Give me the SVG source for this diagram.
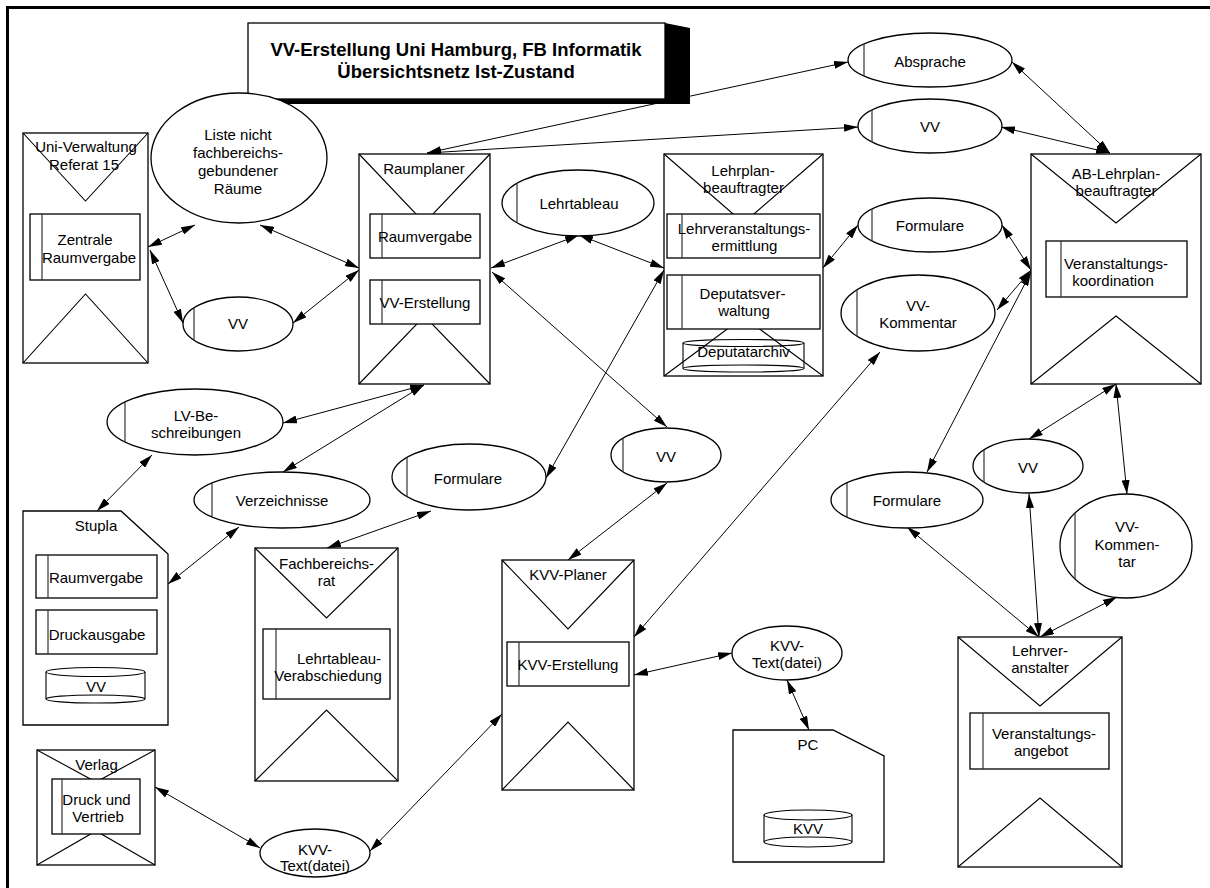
<svg xmlns="http://www.w3.org/2000/svg" width="1210" height="888" viewBox="0 0 1210 888">
  <defs>
    <marker id="ah" viewBox="0 0 14 8" refX="14" refY="4" markerWidth="14" markerHeight="8" markerUnits="userSpaceOnUse" orient="auto-start-reverse">
      <path d="M0,0 L14,4 L0,8 z" fill="#000"/>
    </marker>
    <style>
      .box { fill:#fff; stroke:#000; stroke-width:1.3; }
      .open { fill:none; stroke:#000; stroke-width:1.1; }
      .tri { fill:none; stroke:#000; stroke-width:1.1; }
      .stripe { stroke:#333; stroke-width:1.2; }
      .t { font-family:"Liberation Sans", Arial, Helvetica, sans-serif; font-size:15px; text-anchor:middle; fill:#000; }
      .title { font-family:"Liberation Sans", Arial, Helvetica, sans-serif; font-size:18.5px; font-weight:bold; text-anchor:middle; fill:#000; }
      #connectors line { stroke:#000; stroke-width:1; marker-start:url(#ah); marker-end:url(#ah); }
    </style>
  </defs>

  <rect width="1210" height="888" fill="#fff"/>
  <!-- page frame -->
  <path d="M7.5,888 V7.5 H1210" fill="none" stroke="#000" stroke-width="3"/>

  <!-- connectors -->
  <g id="connectors">
    <line x1="148" y1="247" x2="195" y2="225"/>
    <line x1="150" y1="250" x2="183" y2="323"/>
    <line x1="260" y1="225" x2="359" y2="268"/>
    <line x1="293" y1="323" x2="359" y2="270"/>
    <line x1="491" y1="268" x2="579" y2="235"/>
    <line x1="579" y1="235" x2="664" y2="268"/>
    <line x1="492" y1="272" x2="667" y2="427"/>
    <line x1="664" y1="270" x2="546" y2="478"/>
    <line x1="823" y1="268" x2="858" y2="225"/>
    <line x1="1002" y1="225" x2="1031" y2="270"/>
    <line x1="997" y1="310" x2="1031" y2="270"/>
    <line x1="1031" y1="272" x2="927" y2="472"/>
    <line x1="1012" y1="62" x2="1110" y2="153"/>
    <line x1="1001" y1="127" x2="1110" y2="153"/>
    <line x1="427" y1="153" x2="848" y2="62"/>
    <line x1="427" y1="153" x2="858" y2="127"/>
    <line x1="424" y1="385" x2="283" y2="423"/>
    <line x1="424" y1="385" x2="283" y2="472"/>
    <line x1="152" y1="455" x2="97" y2="511"/>
    <line x1="239" y1="527" x2="168" y2="584"/>
    <line x1="431" y1="511" x2="327" y2="548"/>
    <line x1="667" y1="483" x2="568" y2="560"/>
    <line x1="634" y1="637" x2="880" y2="352"/>
    <line x1="634" y1="675" x2="732" y2="653"/>
    <line x1="787" y1="680" x2="809" y2="730"/>
    <line x1="502" y1="714" x2="370" y2="851"/>
    <line x1="155" y1="787" x2="260" y2="848"/>
    <line x1="1116" y1="384" x2="1029" y2="439"/>
    <line x1="1116" y1="384" x2="1127" y2="494"/>
    <line x1="907" y1="527" x2="1039" y2="637"/>
    <line x1="1029" y1="494" x2="1039" y2="637"/>
    <line x1="1117" y1="597" x2="1040" y2="637"/>
  </g>

  <!-- title -->
  <g id="title">
    <polygon points="665,23 690,28 690,104 272,104 248,99 665,99" fill="#000"/>
    <rect class="box" x="248" y="23" width="417" height="76"/>
    <text class="title" x="456" y="56">VV-Erstellung Uni Hamburg, FB Informatik</text>
    <text class="title" x="456" y="78">Übersichtsnetz Ist-Zustand</text>
  </g>

  <!-- Uni-Verwaltung Referat 15 -->
  <g id="uni-verwaltung">
    <rect class="box" x="23" y="133" width="125" height="230"/>
    <polyline class="tri" points="23,133 85.5,201 148,133"/>
    <polyline class="tri" points="23,363 85.5,294 148,363"/>
    <text class="t" x="86" y="152">Uni-Verwaltung</text>
    <text class="t" x="84" y="170">Referat 15</text>
    <rect class="box" x="30" y="214" width="110" height="66"/>
    <line class="stripe" x1="42" y1="214" x2="42" y2="280"/>
    <text class="t" x="85" y="245">Zentrale</text>
    <text class="t" x="89" y="263">Raumvergabe</text>
  </g>

  <!-- Liste nicht fachbereichsgebundener Räume -->
  <g id="liste-raeume">
    <ellipse class="box" cx="239" cy="158" rx="88" ry="65"/>
    <text class="t" x="238" y="140">Liste nicht</text>
    <text class="t" x="238" y="158">fachbereichs-</text>
    <text class="t" x="238" y="176">gebundener</text>
    <text class="t" x="238" y="194">Räume</text>
  </g>

  <!-- VV (left) -->
  <g id="vv-links">
    <ellipse class="box" cx="238" cy="324" rx="55" ry="27"/>
    <line class="stripe" x1="194" y1="308" x2="194" y2="340"/>
    <text class="t" x="238" y="329">VV</text>
  </g>

  <!-- Raumplaner -->
  <g id="raumplaner">
    <rect class="box" x="359" y="154" width="131" height="230"/>
    <polyline class="tri" points="359,154 424.5,223 490,154"/>
    <polyline class="tri" points="359,384 424.5,316 490,384"/>
    <text class="t" x="424" y="174">Raumplaner</text>
    <rect class="box" x="370" y="214" width="110" height="44"/>
    <line class="stripe" x1="382" y1="214" x2="382" y2="258"/>
    <text class="t" x="425" y="242">Raumvergabe</text>
    <rect class="box" x="370" y="280" width="110" height="44"/>
    <line class="stripe" x1="382" y1="280" x2="382" y2="324"/>
    <text class="t" x="425" y="308">VV-Erstellung</text>
  </g>

  <!-- Lehrtableau -->
  <g id="lehrtableau">
    <ellipse class="box" cx="578" cy="203" rx="76" ry="33"/>
    <line class="stripe" x1="517" y1="183.5" x2="517" y2="222.5"/>
    <text class="t" x="579" y="209">Lehrtableau</text>
  </g>

  <!-- Lehrplanbeauftragter -->
  <g id="lehrplanbeauftragter">
    <rect class="box" x="664" y="154" width="159" height="222"/>
    <polyline class="tri" points="664,154 743.5,223 823,154"/>
    <polyline class="tri" points="664,376 743.5,317 823,376"/>
    <text class="t" x="743" y="176">Lehrplan-</text>
    <text class="t" x="743.5" y="193">beauftragter</text>
    <rect class="box" x="667" y="214" width="153" height="44"/>
    <line class="stripe" x1="682" y1="214" x2="682" y2="258"/>
    <text class="t" x="744" y="234">Lehrveranstaltungs-</text>
    <text class="t" x="744.5" y="251">ermittlung</text>
    <rect class="box" x="667" y="275" width="153" height="54"/>
    <line class="stripe" x1="682" y1="275" x2="682" y2="329"/>
    <text class="t" x="742.5" y="299">Deputatsver-</text>
    <text class="t" x="744" y="316">waltung</text>
    <path class="open" d="M683,343 V368.5 M804,343 V368.5"/>
    <ellipse class="open" cx="743.5" cy="343" rx="60.5" ry="3.5"/>
    <ellipse class="open" cx="743.5" cy="368.5" rx="60.5" ry="3.5"/>
    <text class="t" x="743.5" y="357">Deputatarchiv</text>
  </g>

  <!-- Absprache -->
  <g id="absprache">
    <ellipse class="box" cx="930" cy="60" rx="82" ry="27"/>
    <line class="stripe" x1="864" y1="44" x2="864" y2="76"/>
    <text class="t" x="930" y="67">Absprache</text>
  </g>

  <!-- VV (top right) -->
  <g id="vv-oben">
    <ellipse class="box" cx="930" cy="126" rx="72" ry="27"/>
    <line class="stripe" x1="872" y1="110" x2="872" y2="142"/>
    <text class="t" x="930" y="132">VV</text>
  </g>

  <!-- Formulare (upper right) -->
  <g id="formulare-oben">
    <ellipse class="box" cx="930" cy="225" rx="72" ry="27"/>
    <line class="stripe" x1="872" y1="209" x2="872" y2="241"/>
    <text class="t" x="930" y="231">Formulare</text>
  </g>

  <!-- VV-Kommentar (upper) -->
  <g id="vv-kommentar-oben">
    <ellipse class="box" cx="918" cy="313" rx="77" ry="38"/>
    <line class="stripe" x1="857" y1="290" x2="857" y2="336"/>
    <text class="t" x="918" y="311">VV-</text>
    <text class="t" x="918" y="328">Kommentar</text>
  </g>

  <!-- AB-Lehrplanbeauftragter -->
  <g id="ab-lehrplanbeauftragter">
    <rect class="box" x="1031" y="154" width="170" height="230"/>
    <polyline class="tri" points="1031,154 1116,223 1201,154"/>
    <polyline class="tri" points="1031,384 1116,316 1201,384"/>
    <text class="t" x="1116" y="179">AB-Lehrplan-</text>
    <text class="t" x="1116" y="196">beauftragter</text>
    <rect class="box" x="1046" y="241" width="141" height="56"/>
    <line class="stripe" x1="1061" y1="241" x2="1061" y2="297"/>
    <text class="t" x="1116" y="269">Veranstaltungs-</text>
    <text class="t" x="1113" y="286">koordination</text>
  </g>

  <!-- LV-Beschreibungen -->
  <g id="lv-beschreibungen">
    <ellipse class="box" cx="195" cy="422" rx="88" ry="33"/>
    <line class="stripe" x1="125" y1="402" x2="125" y2="442"/>
    <text class="t" x="196" y="421">LV-Be-</text>
    <text class="t" x="196" y="438">schreibungen</text>
  </g>

  <!-- Verzeichnisse -->
  <g id="verzeichnisse">
    <ellipse class="box" cx="282" cy="500" rx="88" ry="28"/>
    <line class="stripe" x1="212" y1="483" x2="212" y2="517"/>
    <text class="t" x="282" y="506">Verzeichnisse</text>
  </g>

  <!-- Formulare (middle) -->
  <g id="formulare-mitte">
    <ellipse class="box" cx="469" cy="477" rx="77" ry="33"/>
    <line class="stripe" x1="407" y1="457.5" x2="407" y2="496.5"/>
    <text class="t" x="468" y="484">Formulare</text>
  </g>

  <!-- VV (middle) -->
  <g id="vv-mitte">
    <ellipse class="box" cx="666" cy="455" rx="55" ry="27"/>
    <line class="stripe" x1="623" y1="438" x2="623" y2="472"/>
    <text class="t" x="666" y="462">VV</text>
  </g>

  <!-- Formulare (lower right) -->
  <g id="formulare-unten">
    <ellipse class="box" cx="907" cy="500" rx="76" ry="28"/>
    <line class="stripe" x1="847" y1="483" x2="847" y2="517"/>
    <text class="t" x="907" y="506">Formulare</text>
  </g>

  <!-- VV (lower right) -->
  <g id="vv-unten">
    <ellipse class="box" cx="1028" cy="466" rx="55" ry="27"/>
    <line class="stripe" x1="984" y1="450" x2="984" y2="482"/>
    <text class="t" x="1028" y="473">VV</text>
  </g>

  <!-- VV-Kommentar (lower) -->
  <g id="vv-kommentar-unten">
    <ellipse class="box" cx="1126" cy="546" rx="66" ry="52"/>
    <line class="stripe" x1="1075" y1="513" x2="1075" y2="579"/>
    <text class="t" x="1127" y="532">VV-</text>
    <text class="t" x="1127" y="550">Kommen-</text>
    <text class="t" x="1127" y="567">tar</text>
  </g>

  <!-- Stupla -->
  <g id="stupla">
    <polygon class="box" points="23,511 121,511 168,554 168,725 23,725"/>
    <text class="t" x="96" y="531">Stupla</text>
    <rect class="box" x="36" y="555" width="121" height="43"/>
    <line class="stripe" x1="48" y1="555" x2="48" y2="598"/>
    <text class="t" x="96" y="583">Raumvergabe</text>
    <rect class="box" x="36" y="610" width="121" height="44"/>
    <line class="stripe" x1="48" y1="610" x2="48" y2="654"/>
    <text class="t" x="97" y="640">Druckausgabe</text>
    <path class="open" d="M46,672 V699 M145,672 V699"/>
    <ellipse class="open" cx="95.5" cy="672" rx="49.5" ry="4.5"/>
    <ellipse class="open" cx="95.5" cy="699" rx="49.5" ry="4"/>
    <text class="t" x="96" y="692">VV</text>
  </g>

  <!-- Fachbereichsrat -->
  <g id="fachbereichsrat">
    <rect class="box" x="255" y="548" width="143" height="233"/>
    <polyline class="tri" points="255,548 326.5,618 398,548"/>
    <polyline class="tri" points="255,781 326.5,710 398,781"/>
    <text class="t" x="326.5" y="569">Fachbereichs-</text>
    <text class="t" x="326.5" y="586">rat</text>
    <rect class="box" x="263" y="629" width="127" height="70"/>
    <line class="stripe" x1="276" y1="629" x2="276" y2="699"/>
    <text class="t" x="339" y="664">Lehrtableau-</text>
    <text class="t" x="328" y="681">Verabschiedung</text>
  </g>

  <!-- KVV-Planer -->
  <g id="kvv-planer">
    <rect class="box" x="502" y="560" width="132" height="230"/>
    <polyline class="tri" points="502,560 568,629 634,560"/>
    <polyline class="tri" points="502,790 568,722 634,790"/>
    <text class="t" x="568" y="580">KVV-Planer</text>
    <rect class="box" x="507" y="642" width="122" height="44"/>
    <line class="stripe" x1="519" y1="642" x2="519" y2="686"/>
    <text class="t" x="568" y="670">KVV-Erstellung</text>
  </g>

  <!-- KVV-Text(datei) (right) -->
  <g id="kvv-text-rechts">
    <ellipse class="box" cx="787" cy="653" rx="55" ry="27"/>
    <text class="t" x="787" y="651">KVV-</text>
    <text class="t" x="787" y="668">Text(datei)</text>
  </g>

  <!-- PC -->
  <g id="pc">
    <polygon class="box" points="733,730 833,730 884,756 884,862 733,862"/>
    <text class="t" x="808" y="750">PC</text>
    <path class="open" d="M764,815 V842 M852,815 V842"/>
    <ellipse class="open" cx="808" cy="815" rx="44" ry="5"/>
    <ellipse class="open" cx="808" cy="842" rx="44" ry="5"/>
    <text class="t" x="808" y="834">KVV</text>
  </g>

  <!-- Lehrveranstalter -->
  <g id="lehrveranstalter">
    <rect class="box" x="958" y="637" width="164" height="230"/>
    <polyline class="tri" points="958,637 1040,706 1122,637"/>
    <polyline class="tri" points="958,867 1040,798 1122,867"/>
    <text class="t" x="1040" y="656">Lehrver-</text>
    <text class="t" x="1040" y="673">anstalter</text>
    <rect class="box" x="970" y="713" width="139" height="56"/>
    <line class="stripe" x1="983" y1="713" x2="983" y2="769"/>
    <text class="t" x="1044" y="739">Veranstaltungs-</text>
    <text class="t" x="1041" y="756">angebot</text>
  </g>

  <!-- Verlag -->
  <g id="verlag">
    <rect class="box" x="37" y="750" width="118" height="115"/>
    <polyline class="tri" points="37,750 96,782 155,750"/>
    <polyline class="tri" points="37,865 96,831 155,865"/>
    <text class="t" x="96.5" y="770">Verlag</text>
    <rect class="box" x="52" y="779" width="88" height="55"/>
    <line class="stripe" x1="62" y1="779" x2="62" y2="834"/>
    <text class="t" x="96.5" y="805">Druck und</text>
    <text class="t" x="98" y="822">Vertrieb</text>
  </g>

  <!-- KVV-Text(datei) (bottom) -->
  <g id="kvv-text-unten">
    <ellipse class="box" cx="315" cy="853" rx="55" ry="24"/>
    <text class="t" x="315" y="855">KVV-</text>
    <text class="t" x="315" y="871">Text(datei)</text>
  </g>
</svg>
